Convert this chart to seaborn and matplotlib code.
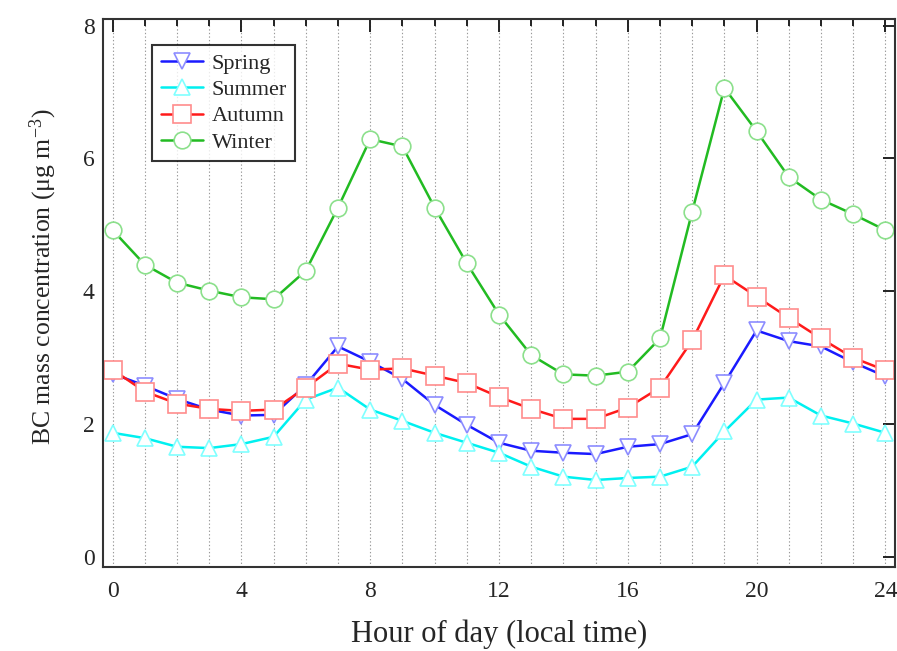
import numpy as np
import pandas as pd
import matplotlib
matplotlib.use("Agg")
import matplotlib.pyplot as plt
import seaborn as sns
from matplotlib.ticker import MultipleLocator


# diurnal BC concentration per season
hours = list(range(25))
spring = [2.76, 2.58, 2.38, 2.22, 2.13, 2.14, 2.59, 3.17, 2.94, 2.68, 2.29, 1.99, 1.72,
          1.60, 1.57, 1.55, 1.66, 1.70, 1.85, 2.62, 3.41, 3.25, 3.17, 2.93, 2.72]
summer = [1.87, 1.79, 1.66, 1.64, 1.70, 1.81, 2.37, 2.55, 2.22, 2.05, 1.87, 1.72, 1.57,
          1.36, 1.21, 1.16, 1.19, 1.21, 1.36, 1.89, 2.37, 2.40, 2.13, 2.01, 1.87]
autumn = [2.82, 2.49, 2.31, 2.23, 2.20, 2.22, 2.55, 2.91, 2.82, 2.84, 2.73, 2.62, 2.41,
          2.23, 2.08, 2.08, 2.25, 2.55, 3.26, 4.24, 3.92, 3.60, 3.29, 3.00, 2.81]
winter = [4.92, 4.40, 4.13, 4.01, 3.91, 3.88, 4.31, 5.26, 6.29, 6.18, 5.26, 4.42, 3.65,
          3.04, 2.75, 2.73, 2.79, 3.29, 5.20, 7.06, 6.41, 5.72, 5.38, 5.16, 4.92]

df = pd.DataFrame({"hour": hours, "Spring": spring, "Summer": summer,
                   "Autumn": autumn, "Winter": winter})

sns.set_style("white")
plt.rcParams["font.family"] = ["Liberation Serif", "DejaVu Serif"]
plt.rcParams["mathtext.fontset"] = "custom"
plt.rcParams["mathtext.rm"] = "Liberation Serif"
plt.rcParams["mathtext.it"] = "Liberation Serif:italic"

fig = plt.figure(figsize=(8.97, 6.51), dpi=100)
ax = fig.add_axes([0.1148, 0.129, 0.883, 0.842])

# line colour, marker edge colour, marker
styles = {
    "Spring": ("#1a1aff", "#8c8cff", "v"),
    "Summer": ("#00f0f0", "#80ffff", "^"),
    "Autumn": ("#ff1a1a", "#ff8c8c", "s"),
    "Winter": ("#22bb22", "#8ce08c", "o"),
}

for season, (lc, ec, mk) in styles.items():
    ms = 12 if mk != "s" else 12.5
    sns.lineplot(data=df, x="hour", y=season, ax=ax, color=lc, linewidth=1.8,
                 marker=mk, markersize=ms, markerfacecolor="white",
                 markeredgecolor=ec, markeredgewidth=1.2, label=season)

ax.set_xlim(-0.3, 24.3)
ax.set_ylim(-0.15, 8.1)
ax.xaxis.set_major_locator(MultipleLocator(4))
ax.xaxis.set_minor_locator(MultipleLocator(1))
ax.yaxis.set_major_locator(MultipleLocator(2))
ax.grid(axis="x", which="both", linestyle=(0, (1.2, 2)), color="#999999", linewidth=0.8)
ax.set_axisbelow(True)

ax.tick_params(which="both", direction="in", top=True, right=True, labelsize=17,
               width=1.4, color="#222222")
ax.tick_params(which="major", length=9)
ax.tick_params(axis="x", which="major", pad=10)
ax.tick_params(axis="y", which="major", pad=6)
ax.tick_params(which="minor", length=5)
for s in ax.spines.values():
    s.set_linewidth(1.5)
    s.set_color("#333333")

ax.set_xlabel("Hour of day (local time)", fontsize=22, labelpad=13)
ax.set_ylabel("BC mass concentration (μg m$^{-3}$)", fontsize=18.5)
ax.yaxis.set_label_coords(-0.056, 0.53)

leg = ax.legend(loc="upper left", bbox_to_anchor=(0.062, 0.953), borderaxespad=0,
                fontsize=16, frameon=True, fancybox=False, edgecolor="black",
                handlelength=1.9, labelspacing=0.26, borderpad=0.38, handletextpad=0.4)
leg.get_frame().set_linewidth(1.5)

plt.savefig("out.png", dpi=100)
